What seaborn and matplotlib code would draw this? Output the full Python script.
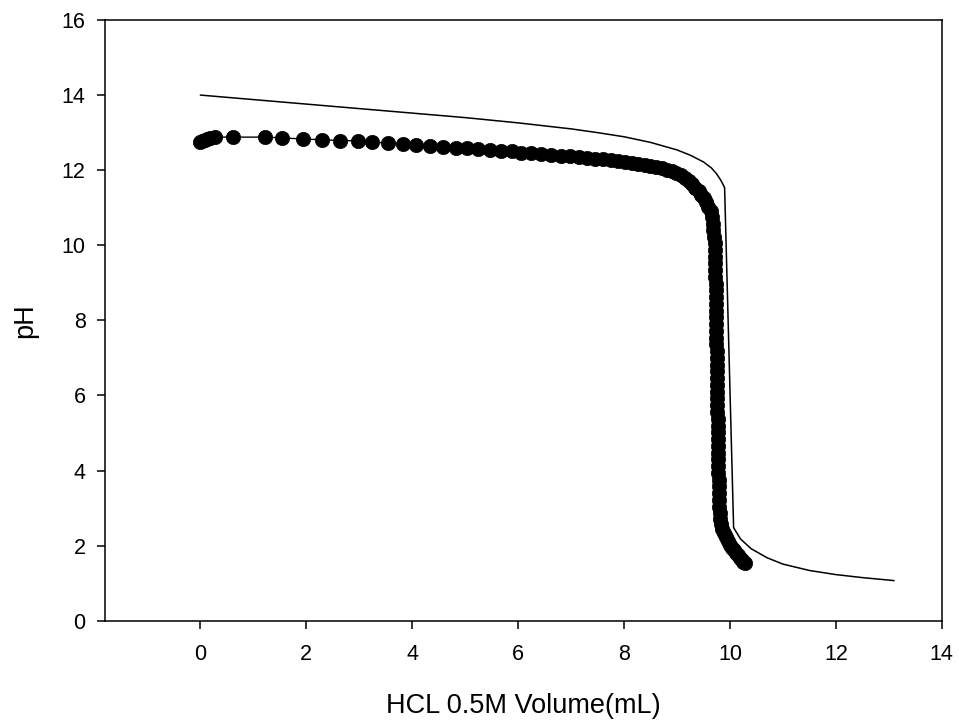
import matplotlib
matplotlib.use("Agg")
import matplotlib.pyplot as plt
import seaborn as sns
import pandas as pd

# Theoretical titration curve (line)
x_theo = [0.0, 1.0, 2.0, 3.0, 4.0, 5.0, 6.0, 7.0, 7.5, 8.0, 8.5, 9.0, 9.25, 9.5,
          9.65, 9.75, 9.82, 9.87, 9.90, 10.07, 10.2, 10.4, 10.7, 11.0, 11.5, 12.0,
          12.5, 13.1]
y_theo = [14.00, 13.88, 13.76, 13.64, 13.52, 13.40, 13.26, 13.10, 13.00, 12.89,
          12.74, 12.54, 12.40, 12.22, 12.06, 11.90, 11.75, 11.62, 11.53, 2.48,
          2.18, 1.92, 1.68, 1.51, 1.34, 1.23, 1.15, 1.07]

# Measured titration data (points)
x_meas = [0.00, 0.04, 0.08, 0.13, 0.19, 0.27, 0.62, 1.23, 1.54, 1.94, 2.29, 2.63,
          2.98, 3.25, 3.54, 3.82, 4.08, 4.33, 4.58, 4.82, 5.04, 5.24, 5.47, 5.67,
          5.88, 6.06, 6.25, 6.44, 6.63, 6.81, 6.98, 7.15, 7.31, 7.46, 7.61, 7.75,
          7.89, 8.02, 8.15, 8.27, 8.39, 8.50, 8.61, 8.71, 8.81, 8.90, 8.99, 9.07,
          9.15, 9.22, 9.29, 9.35, 9.41, 9.46, 9.51, 9.55, 9.59, 9.64, 9.66, 9.68,
          9.69, 9.70, 9.71, 9.72,
          9.72, 9.72, 9.72, 9.72, 9.73, 9.73, 9.73, 9.73, 9.73, 9.74, 9.74, 9.74,
          9.74, 9.74, 9.75, 9.75, 9.75, 9.75, 9.75, 9.76, 9.76, 9.76, 9.76, 9.76,
          9.77, 9.77, 9.77, 9.77, 9.77, 9.78, 9.78, 9.78, 9.78, 9.79, 9.79, 9.79,
          9.79, 9.80, 9.81, 9.82, 9.84, 9.86, 9.89, 9.92, 9.96, 10.00, 10.04, 10.08,
          10.12, 10.16, 10.19, 10.22, 10.25, 10.28]
y_meas = [12.75, 12.78, 12.81, 12.84, 12.86, 12.88, 12.88, 12.88, 12.86, 12.83, 12.81, 12.79,
          12.78, 12.75, 12.72, 12.69, 12.67, 12.65, 12.63, 12.60, 12.58, 12.56, 12.53, 12.51,
          12.50, 12.47, 12.45, 12.43, 12.40, 12.38, 12.37, 12.34, 12.33, 12.31, 12.29, 12.26,
          12.24, 12.21, 12.19, 12.16, 12.13, 12.11, 12.08, 12.05, 12.01, 11.97, 11.92, 11.86,
          11.79, 11.71, 11.62, 11.53, 11.44, 11.35, 11.26, 11.15, 11.03, 10.90, 10.74, 10.57,
          10.40, 10.22, 10.05, 9.88,
          9.70, 9.52, 9.34, 9.16, 8.98, 8.80, 8.62, 8.44, 8.26, 8.08, 7.90, 7.72,
          7.54, 7.36, 7.18, 7.00, 6.82, 6.64, 6.46, 6.28, 6.10, 5.92, 5.74, 5.56,
          5.38, 5.20, 5.02, 4.84, 4.66, 4.48, 4.30, 4.12, 3.94, 3.76, 3.58, 3.40,
          3.22, 3.04, 2.88, 2.72, 2.58, 2.45, 2.33, 2.22, 2.12, 2.03, 1.95, 1.88,
          1.81, 1.74, 1.68, 1.62, 1.57, 1.53]

x_ticks = [0, 2, 4, 6, 8, 10, 12, 14]
y_ticks = [0, 2, 4, 6, 8, 10, 12, 14, 16]
x_label = "HCL 0.5M Volume(mL)"
y_label = "pH"

sns.set_style("ticks")
plt.rcParams['font.family'] = ['Liberation Sans', 'DejaVu Sans']
plt.rcParams['text.color'] = 'black'
plt.rcParams['axes.labelcolor'] = 'black'

df_theo = pd.DataFrame({"x": x_theo, "y": y_theo})
df_meas = pd.DataFrame({"x": x_meas, "y": y_meas})

fig = plt.figure(figsize=(9.59, 7.21), dpi=100)
ax = fig.add_axes([0.1095, 0.139, 0.8725, 0.8333])

sns.lineplot(data=df_theo, x="x", y="y", ax=ax, color="black", linewidth=1.1,
             sort=False, estimator=None)
sns.lineplot(data=df_meas, x="x", y="y", ax=ax, color="black", linewidth=1.0,
             sort=False, estimator=None, marker="o", markersize=10.3,
             markeredgecolor="black", markerfacecolor="black", markeredgewidth=0.5)

ax.set_xlim(-1.8, 14)
ax.set_ylim(0, 16)
ax.set_xticks(x_ticks)
ax.set_yticks(y_ticks)
ax.set_xticklabels([str(t) for t in x_ticks])
ax.set_yticklabels([str(t) for t in y_ticks])

for side in ["left", "bottom", "top", "right"]:
    ax.spines[side].set_visible(True)
    ax.spines[side].set_linewidth(1.1)
    ax.spines[side].set_color("black")

ax.tick_params(axis="both", direction="out", length=6, width=1.1, colors="black",
               labelcolor="black", labelsize=15.5, top=False, right=False)
ax.tick_params(axis="x", pad=11)
ax.tick_params(axis="y", pad=8)

ax.set_xlabel(x_label, fontsize=19.5, labelpad=20, color="black")
ax.set_ylabel(y_label, fontsize=19.5, labelpad=17, color="black")

fig.savefig("out.png", dpi=100, facecolor="white")
